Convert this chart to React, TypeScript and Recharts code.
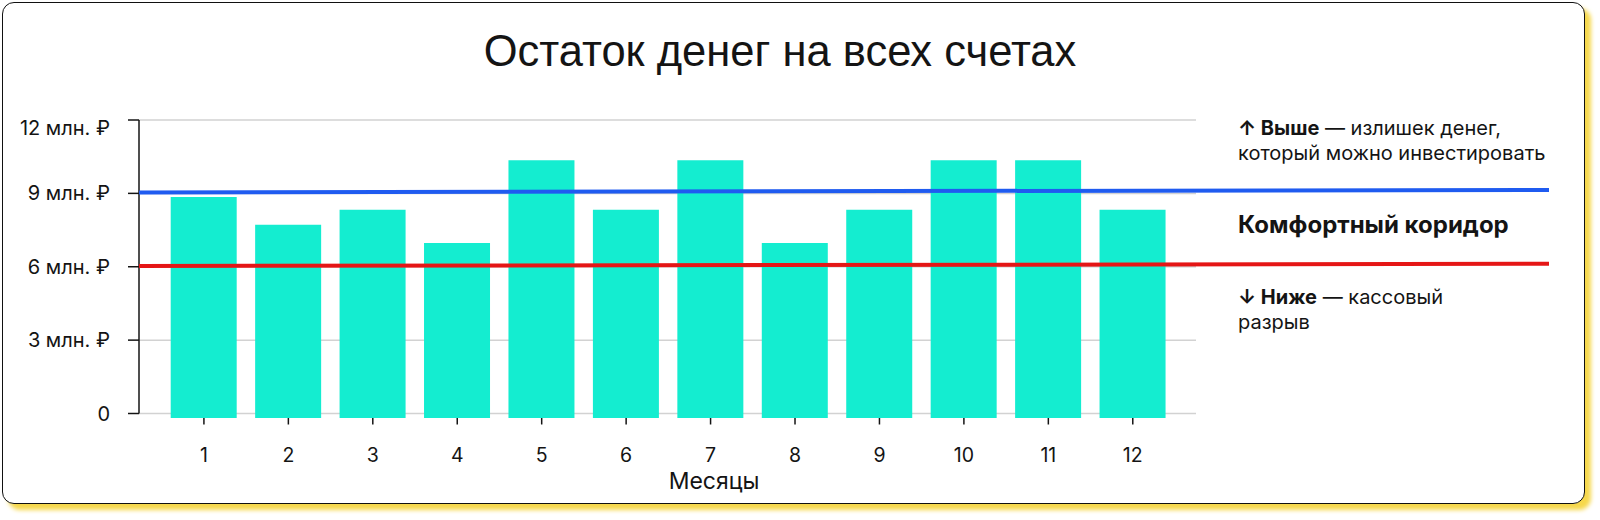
import React from "react"
import { ComposedChart, LineChart, Line, Bar, XAxis, YAxis, CartesianGrid, Rectangle } from "recharts"

const months = ["1", "2", "3", "4", "5", "6", "7", "8", "9", "10", "11", "12"]
// остаток на конец месяца, млн ₽
const balances = [8.85, 7.72, 8.33, 6.97, 10.35, 8.33, 10.35, 6.97, 8.33, 10.35, 10.35, 8.33]
const yTicks = [0, 3, 6, 9, 12]
// границы коридора: значение в начале и в конце линии
const linePos = [0, 1]
const upperBound = [9.04, 9.14]
const lowerBound = [6.03, 6.12]

const data = months.map((m, i) => ({ month: m, balance: balances[i] }))
const corridor = linePos.map((p, i) => ({ pos: p, upper: upperBound[i], lower: lowerBound[i] }))

const FONT = "Inter, 'Noto Sans', sans-serif"
const INK = "#141414"
const MARGIN = { top: 120, right: 51, bottom: 26.5, left: 0 }

const YTick = ({ x, y, payload }: any) => {
  const v = payload.value
  const label = v === 0 ? "0" : `${v} млн. ₽`
  // верхняя подпись сдвинута вниз, чтобы не вылезать за край
  const shift = v === 12 ? 8 : 0
  return (
    <text x={x} y={y + shift} textAnchor="end" dominantBaseline="central" fontFamily={FONT} fontSize={20} fill={INK}>
      {label}
    </text>
  )
}

const XTick = ({ x, y, payload }: any) => (
  <g>
    <line x1={x} x2={x} y1={y + 4.5} y2={y + 11} stroke={INK} strokeWidth={1.5} />
    <text x={x} y={y + 41} textAnchor="middle" dominantBaseline="central" fontFamily={FONT} fontSize={19.5} fill={INK}>
      {payload.value}
    </text>
  </g>
)

// столбик чуть уходит ниже нулевой линии
const BalanceBar = (props: any) => (
  <Rectangle x={props.x} y={props.y} width={props.width} height={props.height + 4.5} fill="#14EDD0" />
)

export default function App() {
  return (
    <div style={{ position: "absolute", left: 0, top: 0, width: 1600, height: 520, background: "#fff" }}>
      <div
        style={{
          position: "absolute",
          left: 2,
          top: 2,
          width: 1581,
          height: 500,
          border: "1.5px solid #111",
          borderRadius: 12,
          boxShadow: "6px 6px 4px #F6D84C",
          background: "#fff",
        }}
      />
      <div
        style={{
          position: "absolute",
          left: 0,
          width: 1560,
          top: 25,
          textAlign: "center",
          fontFamily: "'Liberation Sans', Arial, sans-serif",
          fontSize: 43.5,
          lineHeight: "52px",
          color: INK,
        }}
      >
        Остаток денег на всех счетах
      </div>

      <div style={{ position: "absolute", left: 0, top: 0 }}>
        <ComposedChart width={1600} height={520} data={data} margin={MARGIN}>
          <CartesianGrid vertical={false} x={139} width={1057} stroke="#d2d2d2" strokeWidth={1.5} />
          <XAxis
            dataKey="month"
            axisLine={false}
            tickLine={false}
            tickSize={0}
            tickMargin={0}
            height={80}
            padding={{ left: 22.7, right: 374 }}
            tick={<XTick />}
            interval={0}
          />
          <YAxis
            domain={[0, 12]}
            ticks={yTicks}
            width={139}
            tickSize={11}
            tickMargin={18}
            axisLine={{ stroke: INK, strokeWidth: 1.5 }}
            tickLine={{ stroke: INK, strokeWidth: 1.5 }}
            tick={<YTick />}
            interval={0}
          />
          <Bar dataKey="balance" barSize={66} shape={<BalanceBar />} isAnimationActive={false} />
        </ComposedChart>
      </div>

      {/* линии коридора поверх столбиков, тянутся до правого края */}
      <div style={{ position: "absolute", left: 0, top: 0 }}>
        <LineChart width={1600} height={520} data={corridor} margin={{ ...MARGIN, left: 139, bottom: MARGIN.bottom + 80 }}>
          <XAxis dataKey="pos" type="number" domain={[0, 1]} hide />
          <YAxis domain={[0, 12]} hide />
          <Line dataKey="upper" stroke="#1F5BF0" strokeWidth={4} dot={false} isAnimationActive={false} />
          <Line dataKey="lower" stroke="#E51616" strokeWidth={4} dot={false} isAnimationActive={false} />
        </LineChart>
      </div>

      <div style={{ position: "absolute", left: 1238, top: 116, fontFamily: FONT, fontSize: 20, lineHeight: "25px", color: INK }}>
        <b>↑ Выше</b> — излишек денег,
        <br />
        который можно инвестировать
      </div>
      <div style={{ position: "absolute", left: 1238, top: 210, fontFamily: FONT, fontSize: 24, lineHeight: "30px", fontWeight: 700, color: INK }}>
        Комфортный коридор
      </div>
      <div style={{ position: "absolute", left: 1238, top: 285, fontFamily: FONT, fontSize: 20, lineHeight: "25px", color: INK }}>
        <b>↓ Ниже</b> — кассовый
        <br />
        разрыв
      </div>
      <div style={{ position: "absolute", left: 614, width: 200, top: 466, textAlign: "center", fontFamily: FONT, fontSize: 23, lineHeight: "30px", color: INK }}>
        Месяцы
      </div>
    </div>
  )
}
